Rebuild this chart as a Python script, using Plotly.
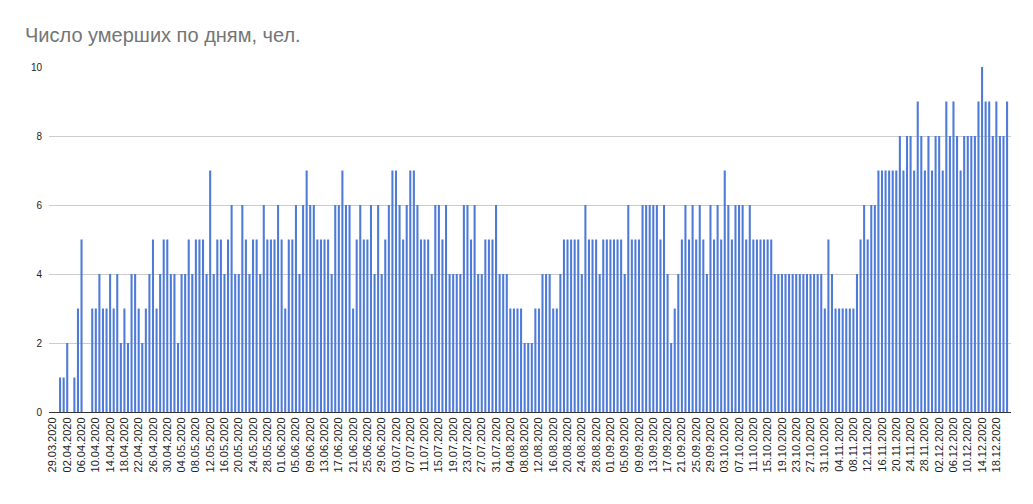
import datetime as dt
import plotly.graph_objects as go

# Daily deaths starting 29.03.2020
start_date = dt.date(2020, 3, 29)
deaths = [
    0, 0, 1, 1, 2, 0, 1, 3, 5, 0,          # 29.03 - 07.04
    0, 3, 3, 4, 3, 3, 4, 3, 4, 2,          # 08.04 - 17.04
    3, 2, 4, 4, 3, 2, 3, 4, 5, 3,          # 18.04 - 27.04
    4, 5, 5, 4, 4, 2, 4, 4, 5, 4,          # 28.04 - 07.05
    5, 5, 5, 4, 7, 4, 5, 5, 4, 5,          # 08.05 - 17.05
    6, 4, 4, 6, 5, 4, 5, 5, 4, 6,          # 18.05 - 27.05
    5, 5, 5, 6, 5, 3, 5, 5, 6, 4,          # 28.05 - 06.06
    6, 7, 6, 6, 5, 5, 5, 5, 4, 6,          # 07.06 - 16.06
    6, 7, 6, 6, 3, 5, 6, 5, 5, 6,          # 17.06 - 26.06
    4, 6, 4, 5, 6, 7, 7, 6, 5, 6,          # 27.06 - 06.07
    7, 7, 6, 5, 5, 5, 4, 6, 6, 5,          # 07.07 - 16.07
    6, 4, 4, 4, 4, 6, 6, 5, 6, 4,          # 17.07 - 26.07
    4, 5, 5, 5, 6, 4, 4, 4, 3, 3,          # 27.07 - 05.08
    3, 3, 2, 2, 2, 3, 3, 4, 4, 4,          # 06.08 - 15.08
    3, 3, 4, 5, 5, 5, 5, 5, 4, 6,          # 16.08 - 25.08
    5, 5, 5, 4, 5, 5, 5, 5, 5, 5,          # 26.08 - 04.09
    4, 6, 5, 5, 5, 6, 6, 6, 6, 6,          # 05.09 - 14.09
    5, 6, 4, 2, 3, 4, 5, 6, 5, 6,          # 15.09 - 24.09
    5, 6, 5, 4, 6, 5, 6, 5, 7, 6,          # 25.09 - 04.10
    5, 6, 6, 6, 5, 6, 5, 5, 5, 5,          # 05.10 - 14.10
    5, 5, 4, 4, 4, 4, 4, 4, 4, 4,          # 15.10 - 24.10
    4, 4, 4, 4, 4, 4, 3, 5, 4, 3,          # 25.10 - 03.11
    3, 3, 3, 3, 3, 4, 5, 6, 5, 6,          # 04.11 - 13.11
    6, 7, 7, 7, 7, 7, 7, 8, 7, 8,          # 14.11 - 23.11
    8, 7, 9, 8, 7, 8, 7, 8, 8, 7,          # 24.11 - 03.12
    9, 8, 9, 8, 7, 8, 8, 8, 8, 9,          # 04.12 - 13.12
    10, 9, 9, 8, 9, 8, 8, 9,               # 14.12 - 21.12
]
dates = [(start_date + dt.timedelta(days=i)).strftime("%d.%m.%Y") for i in range(len(deaths))]
tick_labels = dates[::4]

title_text = "Число умерших по дням, чел."
y_ticks = [0, 2, 4, 6, 8, 10]

fig = go.Figure(
    go.Bar(
        x=dates,
        y=deaths,
        marker=dict(color="#4f7bd8", line=dict(width=0)),
        hoverinfo="x+y",
    )
)

n = len(dates)
fig.update_layout(
    width=1033,
    height=504,
    margin=dict(l=49, r=22, t=67, b=92),
    paper_bgcolor="white",
    plot_bgcolor="white",
    bargap=0.42,
    showlegend=False,
    font=dict(family="Liberation Sans, Arial, sans-serif", color="#222222"),
    title=dict(
        text=title_text,
        font=dict(size=20, color="#757575", family="Liberation Sans, Arial, sans-serif"),
        xref="container", yref="container",
        x=25 / 1033, xanchor="left",
        y=1 - 35 / 504, yanchor="middle",
    ),
    xaxis=dict(
        type="category",
        range=[-1.1, n - 1 + 1.1],
        tickmode="array",
        tickvals=tick_labels,
        ticktext=tick_labels,
        tickangle=-90,
        tickfont=dict(size=11, color="#222222"),
        showgrid=False,
        ticks="",
        showline=True,
        linecolor="#333333",
        linewidth=1,
        fixedrange=True,
    ),
    yaxis=dict(
        range=[0, 10],
        tickvals=y_ticks,
        tickfont=dict(size=10, color="#222222"),
        showgrid=True,
        gridcolor="#cccccc",
        gridwidth=1,
        zeroline=False,
        ticks="",
        ticklabelstandoff=6,
        fixedrange=True,
    ),
)

fig.write_html("out.html")
